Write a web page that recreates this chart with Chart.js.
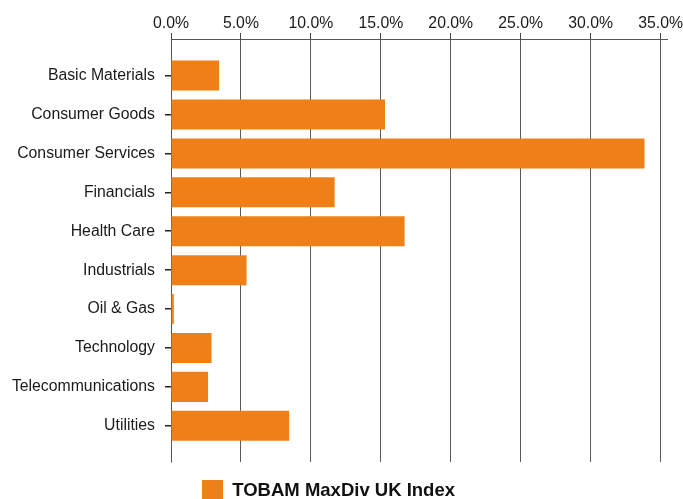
<!DOCTYPE html>
<html>
<head>
<meta charset="utf-8">
<script src="https://cdn.jsdelivr.net/npm/chart.js@4/dist/chart.umd.min.js"></script>
<style>
  html, body { margin: 0; padding: 0; overflow: hidden; background: #fff; }
  #wrap { width: 683px; height: 511px; position: relative; }
</style>
</head>
<body>
<div id="wrap"><canvas id="grafico"></canvas></div>
<script>
// sectores y pesos (%)
const sectores = [
  "Basic Materials", "Consumer Goods", "Consumer Services", "Financials",
  "Health Care", "Industrials", "Oil & Gas", "Technology",
  "Telecommunications", "Utilities"
];
const pesos = [3.44, 15.3, 33.85, 11.7, 16.7, 5.4, 0.2, 2.9, 2.65, 8.45];
const serieNombre = "TOBAM MaxDiv UK Index";
const ticksX = [0, 5, 10, 15, 20, 25, 30, 35];

const naranja = "#EE8017";
const fuente = "'Liberation Sans', Arial, sans-serif";

// la leyenda del original queda un poco a la izquierda del centro
const moverLeyenda = {
  id: "moverLeyenda",
  afterLayout(chart) {
    chart.legend.left -= 5;
    chart.legend.right -= 5;
  }
};

new Chart(document.getElementById("grafico"), {
  type: "bar",
  data: {
    datasets: [{
      label: serieNombre,
      data: pesos.map((v, i) => ({ x: v, y: i })),
      backgroundColor: naranja,
      borderWidth: 0,
      barPercentage: 0.965,
      categoryPercentage: 0.8
    }]
  },
  options: {
    indexAxis: "y",
    responsive: true,
    maintainAspectRatio: false,
    animation: false,
    layout: { padding: { left: 0, right: 16, top: 0, bottom: 0 } },
    scales: {
      x: {
        type: "linear",
        position: "top",
        min: 0,
        max: 35.46,
        afterBuildTicks: s => { s.ticks = ticksX.map(v => ({ value: v })); },
        afterFit: s => { s.height = 39; s.paddingLeft = 0; s.paddingRight = 0; },
        ticks: {
          callback: v => v.toFixed(1) + "%",
          color: "#1a1a1a",
          padding: 0,
          font: { family: fuente, size: 15.8 }
        },
        grid: { color: "#5a5a5a", lineWidth: 1, tickLength: 6, tickColor: "#444" },
        border: { color: "#555", width: 1 }
      },
      y: {
        type: "linear",
        reverse: true,
        offset: false,
        min: -0.94,
        max: 9.93,
        afterBuildTicks: s => { s.ticks = sectores.map((c, i) => ({ value: i })); },
        afterFit: s => { s.width = 171; },
        ticks: {
          callback: v => sectores[v],
          color: "#1a1a1a",
          padding: 10,
          font: { family: fuente, size: 15.8 }
        },
        grid: { offset: false, drawOnChartArea: false, drawTicks: true, tickLength: 6, tickColor: "#222", lineWidth: 1.5 },
        border: { color: "#555", width: 1 }
      }
    },
    plugins: {
      legend: {
        position: "bottom",
        labels: {
          boxWidth: 21,
          boxHeight: 21,
          padding: 18,
          color: "#111",
          font: { family: fuente, size: 18.5, weight: "bold" }
        }
      },
      tooltip: { enabled: false }
    }
  },
  plugins: [moverLeyenda]
});
</script>
</body>
</html>
